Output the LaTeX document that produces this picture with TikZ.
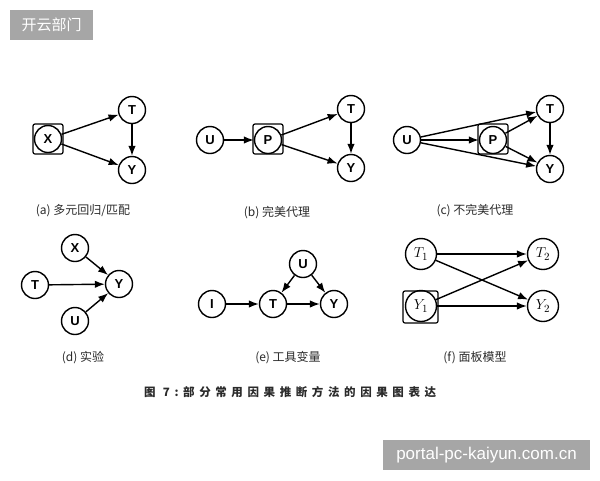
\documentclass[tikz,border=0pt]{standalone}
\usepackage{fontspec}
\setsansfont{Liberation Sans}
\newfontfamily\cjk{Noto Sans CJK SC}
\usetikzlibrary{arrows.meta}
\definecolor{wm}{HTML}{A6A6A6}
\definecolor{txt}{HTML}{2B2B2B}
\begin{document}
\begin{tikzpicture}[x=1pt,y=-1pt,
  v/.style={circle,draw,line width=1.4pt,minimum size=27pt,inner sep=0pt,font=\sffamily\bfseries\fontsize{13}{13}\selectfont},
  vm/.style={circle,draw,line width=1.4pt,minimum size=31pt,inner sep=0pt,font=\fontsize{15}{15}\selectfont},
  cond/.style={draw,line width=1.2pt,rounded corners=2pt,minimum size=30pt,inner sep=0pt},
  arr/.style={line width=1.4pt,-{Latex[length=10pt,width=7.5pt]}},
  lbl/.style={font=\cjk\fontsize{12}{14}\selectfont,text=txt}]
\useasboundingbox (0,0) rectangle (600,480);
\fill[white] (0,0) rectangle (600,480);
% watermarks
\node[fill=wm,text=white,font=\cjk\fontsize{15}{15}\selectfont,minimum width=83pt,minimum height=30pt,inner sep=0pt] (wma) at (51.5,25) {开云部门};
\node[fill=wm,text=white,font=\sffamily\fontsize{17}{17}\selectfont,minimum width=207pt,minimum height=30pt,inner sep=0pt] (wmb) at (486.5,455) {portal-pc-kaiyun.com.cn};
% (a)
\node[cond] (abx) at (48,139) {};
\node[v] (ax) at (48,139) {X};
\node[v] (at) at (132,110) {T};
\node[v] (ay) at (132,170) {Y};
\draw[arr] (ax) -- (at);
\draw[arr] (ax) -- (ay);
\draw[arr] (at) -- (ay);
\node[lbl] (acap) at (83,211) {(a) 多元回归/匹配};
% (b)
\node[v] (bu) at (210,140) {U};
\node[cond] (bbx) at (268,139) {};
\node[v] (bp) at (268,140) {P};
\node[v] (bt) at (351,109) {T};
\node[v] (by) at (351,168) {Y};
\draw[arr] (bu) -- (bp);
\draw[arr] (bp) -- (bt);
\draw[arr] (bp) -- (by);
\draw[arr] (bt) -- (by);
\node[lbl] (bcap) at (277,213) {(b) 完美代理};
% (c)
\node[v] (cu) at (407,140) {U};
\node[cond] (cbx) at (493,139) {};
\node[v] (cp) at (493,140) {P};
\node[v] (ct) at (550,109) {T};
\node[v] (cy) at (550,169) {Y};
\draw[arr] (cu) -- (ct);
\draw[arr] (cu) -- (cp);
\draw[arr] (cu) -- (cy);
\draw[arr] (cp) -- (ct);
\draw[arr] (cp) -- (cy);
\draw[arr] (ct) -- (cy);
\node[lbl] (ccap) at (475,211) {(c) 不完美代理};
% (d)
\node[v] (dx) at (75,248) {X};
\node[v] (dt) at (35,285) {T};
\node[v] (dy) at (119,284) {Y};
\node[v] (du) at (75,321) {U};
\draw[arr] (dx) -- (dy);
\draw[arr] (dt) -- (dy);
\draw[arr] (du) -- (dy);
\node[lbl] (dcap) at (83,358) {(d) 实验};
% (e)
\node[v] (eu) at (303,264) {U};
\node[v] (ei) at (212,304) {I};
\node[v] (et) at (273,304) {T};
\node[v] (ey) at (334,304) {Y};
\draw[arr] (ei) -- (et);
\draw[arr] (et) -- (ey);
\draw[arr] (eu) -- (et);
\draw[arr] (eu) -- (ey);
\node[lbl] (ecap) at (288,358) {(e) 工具变量};
% (f)
\node[cond,minimum width=35pt,minimum height=32pt] (fbx) at (420.5,307) {};
\node[vm] (ft1) at (421,254) {$T_1$};
\node[vm] (fy1) at (421,306) {$Y_1$};
\node[vm] (ft2) at (543,254) {$T_2$};
\node[vm] (fy2) at (543,306) {$Y_2$};
\draw[arr] (ft1) -- (ft2);
\draw[arr] (ft1) -- (fy2);
\draw[arr] (fy1) -- (ft2);
\draw[arr] (fy1) -- (fy2);
\node[lbl] (fcap) at (475,358) {(f) 面板模型};
% title
\node[anchor=west,inner sep=0pt,text=txt,font=\cjk\bfseries\fontsize{11.5}{13}\selectfont\addfontfeature{LetterSpace=40}] (title) at (144,392) {图 7:部分常用因果推断方法的因果图表达};
\end{tikzpicture}
\end{document}
